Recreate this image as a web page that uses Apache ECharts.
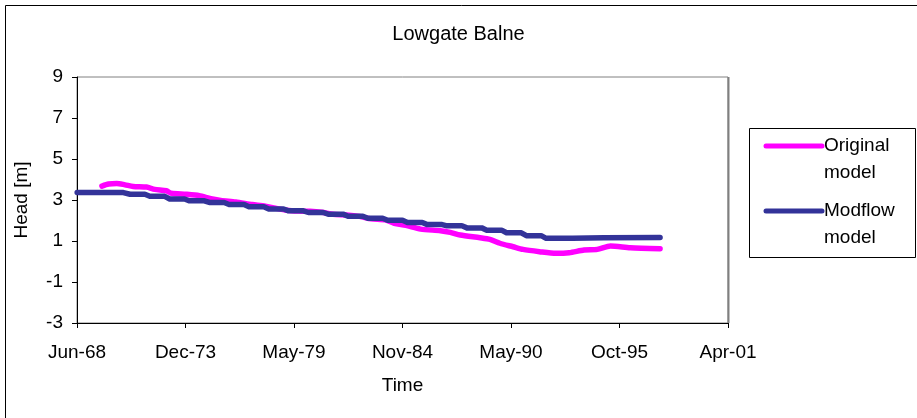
<!DOCTYPE html>
<html>
<head>
<meta charset="utf-8">
<title>Lowgate Balne</title>
<script src="https://cdn.jsdelivr.net/npm/echarts@6/dist/echarts.min.js"></script>
<style>
  html, body { margin: 0; padding: 0; background: #fff; }
  #chart { width: 917px; height: 418px; }
</style>
</head>
<body>
<div id="chart"></div>
<script>
// Simulated groundwater head at Lowgate Balne, two model runs.
const chartTitle = 'Lowgate Balne';
const seriesNames = ['Original model', 'Modflow model'];
const xAxisTitle = 'Time';
const yAxisTitle = 'Head [m]';

const originalDates = [
  '1969-09', '1970-01', '1970-06', '1970-11', '1971-04', '1971-12', '1972-05', '1972-12',
  '1973-03', '1973-12', '1974-08', '1975-03', '1975-09', '1976-06', '1977-04', '1977-12',
  '1978-06', '1979-01', '1979-08', '1980-03', '1980-10', '1981-05', '1982-01', '1982-09',
  '1983-04', '1984-01', '1984-06', '1985-01', '1985-10', '1986-10', '1987-04', '1987-10',
  '1988-10', '1989-04', '1989-10', '1990-06', '1990-12', '1991-10', '1992-08', '1993-04',
  '1994-01', '1994-09', '1995-05', '1996-05', '1997-11'
];
const originalHead = [
  3.68, 3.78, 3.81, 3.74, 3.66, 3.63, 3.52, 3.45,
  3.33, 3.28, 3.21, 3.06, 2.98, 2.90, 2.78, 2.70,
  2.60, 2.50, 2.46, 2.45, 2.40, 2.30, 2.27, 2.20,
  2.08, 2.02, 1.86, 1.76, 1.58, 1.50, 1.42, 1.29,
  1.16, 1.08, 0.89, 0.72, 0.59, 0.48, 0.40, 0.43,
  0.56, 0.59, 0.76, 0.67, 0.62
];

const modflowDates = [
  '1968-06', '1970-10',
  '1971-02', '1971-11', '1972-02', '1972-11', '1973-02', '1973-11', '1974-02', '1974-11',
  '1975-02', '1975-11', '1976-02', '1976-11', '1977-02', '1977-11', '1978-02', '1978-11',
  '1979-02', '1979-11', '1980-02', '1980-11', '1981-02', '1981-11', '1982-02', '1982-11',
  '1983-02', '1983-11', '1984-02', '1984-11', '1985-02', '1985-11', '1986-02', '1986-11',
  '1987-02', '1987-11', '1988-02', '1988-11', '1989-02', '1989-11', '1990-02', '1990-11',
  '1991-02', '1991-11', '1992-02', '1993-06', '1995-01', '1997-11'
];
const modflowHead = [
  3.36, 3.36,
  3.28, 3.28, 3.18, 3.18, 3.05, 3.05, 2.96, 2.96,
  2.88, 2.88, 2.78, 2.78, 2.67, 2.67, 2.56, 2.56,
  2.47, 2.47, 2.39, 2.39, 2.31, 2.31, 2.21, 2.21,
  2.11, 2.11, 2.01, 2.01, 1.90, 1.90, 1.80, 1.80,
  1.74, 1.74, 1.64, 1.64, 1.53, 1.53, 1.40, 1.40,
  1.26, 1.26, 1.13, 1.14, 1.16, 1.17
];

// Time axis: days counted from 12 Jun 1968, labelled every 2000 days.
const axisOrigin = Date.UTC(1968, 5, 12);
const xMinDays = 0, xMaxDays = 12000, xStepDays = 2000;
const yMin = -3, yMax = 9, yStep = 2;
const monthNames = ['Jan', 'Feb', 'Mar', 'Apr', 'May', 'Jun', 'Jul', 'Aug', 'Sep', 'Oct', 'Nov', 'Dec'];

const colors = ['#FF00FF', '#333399'];
const fontFamily = "'Liberation Sans', Arial, sans-serif";
const textSize = 19;

function toDays(s) {
  const p = s.split('-').map(Number);
  return (Date.UTC(p[0], p[1] - 1, 15) - axisOrigin) / 864e5;
}
function dayLabel(v) {
  const d = new Date(axisOrigin + v * 864e5);
  return monthNames[d.getUTCMonth()] + '-' + String(d.getUTCFullYear() % 100).padStart(2, '0');
}
function pairs(dates, vals) {
  return dates.map((d, i) => [toDays(d), vals[i]]);
}

const chart = echarts.init(document.getElementById('chart'), null, { renderer: 'canvas' });

const legendX = 749, legendY = 128;
const legendGraphic = {
  type: 'group',
  left: legendX,
  top: legendY,
  children: [
    { type: 'rect', shape: { x: 0.5, y: 0.5, width: 166, height: 129 },
      style: { fill: '#fff', stroke: '#000', lineWidth: 1 } },
    { type: 'line', shape: { x1: 17, y1: 18, x2: 73, y2: 18 },
      style: { stroke: colors[0], lineWidth: 5, lineCap: 'round' } },
    { type: 'text', x: 75, y: 4.5,
      style: { text: seriesNames[0].replace(' ', '\n'), fill: '#000', fontSize: textSize,
               fontFamily: fontFamily, lineHeight: 27, verticalAlign: 'top' } },
    { type: 'line', shape: { x1: 17, y1: 83, x2: 73, y2: 83 },
      style: { stroke: colors[1], lineWidth: 5, lineCap: 'round' } },
    { type: 'text', x: 75, y: 69.5,
      style: { text: seriesNames[1].replace(' ', '\n'), fill: '#000', fontSize: textSize,
               fontFamily: fontFamily, lineHeight: 27, verticalAlign: 'top' } }
  ]
};

const option = {
  animation: false,
  backgroundColor: '#fff',
  title: {
    text: chartTitle,
    left: 'center',
    top: 19,
    textStyle: { fontSize: 20, fontWeight: 'normal', color: '#000', fontFamily: fontFamily }
  },
  grid: {
    left: 77, right: 189, top: 77, bottom: 95,
    show: true, borderColor: '#808080', borderWidth: 1, backgroundColor: '#fff'
  },
  xAxis: {
    type: 'value',
    min: xMinDays, max: xMaxDays, interval: xStepDays,
    name: xAxisTitle, nameLocation: 'middle', nameGap: 53,
    nameTextStyle: { fontSize: textSize, color: '#000', fontFamily: fontFamily },
    axisLine: { show: true, onZero: false, lineStyle: { color: '#000', width: 1 } },
    axisTick: { show: true, inside: false, length: 5, lineStyle: { color: '#000' } },
    axisLabel: { formatter: dayLabel, fontSize: textSize, color: '#000', fontFamily: fontFamily, margin: 20 },
    splitLine: { show: false }
  },
  yAxis: {
    type: 'value',
    min: yMin, max: yMax, interval: yStep,
    name: yAxisTitle, nameLocation: 'middle', nameGap: 46,
    nameTextStyle: { fontSize: textSize, color: '#000', fontFamily: fontFamily },
    axisLine: { show: true, onZero: false, lineStyle: { color: '#000', width: 1 } },
    axisTick: { show: true, inside: false, length: 5, lineStyle: { color: '#000' } },
    axisLabel: { fontSize: textSize, color: '#000', fontFamily: fontFamily, margin: 14 },
    splitLine: { show: false }
  },
  series: [
    {
      name: seriesNames[0], type: 'line', data: pairs(originalDates, originalHead),
      showSymbol: false, smooth: 0.25, z: 2,
      lineStyle: { color: colors[0], width: 5.5, cap: 'round', join: 'round' }
    },
    {
      name: seriesNames[1], type: 'line', data: pairs(modflowDates, modflowHead),
      showSymbol: false, z: 3,
      lineStyle: { color: colors[1], width: 5.5, cap: 'round', join: 'round' }
    }
  ],
  graphic: [
    { type: 'rect', left: 3, top: 3, silent: true,
      shape: { x: 0.5, y: 0.5, width: 1200, height: 800 },
      style: { fill: 'none', stroke: '#000', lineWidth: 1 }, z: -1 },
    { type: 'line', silent: true, z: 5,
      shape: { x1: 728.5, y1: 77, x2: 728.5, y2: 323 },
      style: { stroke: '#808080', lineWidth: 2 } },
    legendGraphic
  ]
};

chart.setOption(option);
</script>
</body>
</html>
